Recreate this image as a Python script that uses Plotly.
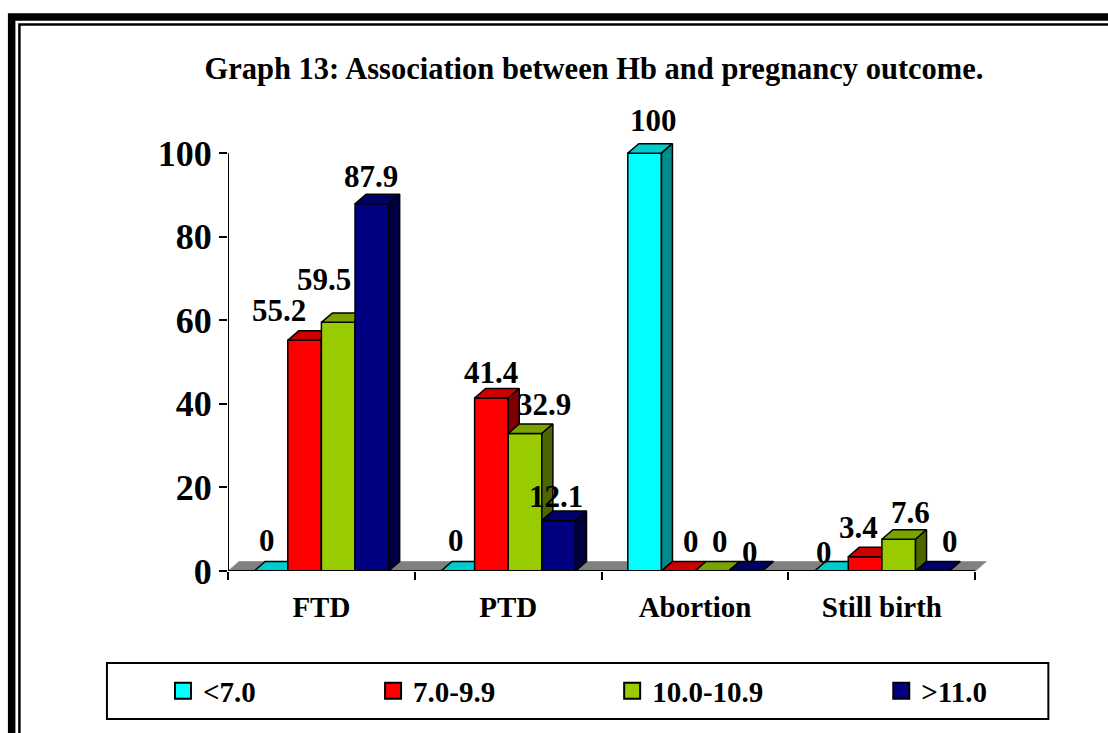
import plotly.graph_objects as go

# ---------------- data ----------------
categories = ["FTD", "PTD", "Abortion", "Still birth"]
series_names = ["<7.0", "7.0-9.9", "10.0-10.9", ">11.0"]
val_lt7 = [0, 0, 100, 0]
val_7_99 = [55.2, 41.4, 0, 3.4]
val_10_109 = [59.5, 32.9, 0, 7.6]
val_gt11 = [87.9, 12.1, 0, 0]
y_ticks = [0, 20, 40, 60, 80, 100]

# ---------------- style ----------------
FONT = "Liberation Serif"
front_colors = ["#00FFFF", "#FF0000", "#99CC00", "#000080"]
top_colors = ["#00CCCC", "#CC0000", "#7AA300", "#000066"]
side_colors = ["#008B8B", "#800000", "#4D6600", "#000040"]
# per-label pixel nudges (Excel's own label placement)
label_dx = [[-3.5, -2, 9, -7], [-26, 0, 12.5, -7], [-14, 19, 8, 11.6], [-1, -2.5, 4, 18]]
label_dy = [[31, 30.5, 33, 18.5], [30, 26, 29.5, 29], [43, 29.5, 29.5, 27], [27, 24, 18.5, 29.5]]

W, H = 1108, 733
L, B = 228, 162
PX_PER_CAT = 186.75
PX_PER_UNIT = 4.18
X_RANGE = [-0.5, 3.6]
Y_RANGE = [0, 112]
plot_w = (X_RANGE[1] - X_RANGE[0]) * PX_PER_CAT
plot_h = (Y_RANGE[1] - Y_RANGE[0]) * PX_PER_UNIT
R = W - L - plot_w
T = H - B - plot_h
DX = 11 / PX_PER_CAT      # depth offset in x units
DY = 9.5 / PX_PER_UNIT    # depth offset in y units
BARGAP = 0.28
BAR_W = (1 - BARGAP) / 4


def px2paper_x(px):
    return (px - L) / plot_w


def px2paper_y(py):
    return (H - B - py) / plot_h


all_series = [val_lt7, val_7_99, val_10_109, val_gt11]

fig = go.Figure()

# floor
n = len(categories)
fig.add_trace(go.Scatter(
    x=[-0.5, n - 0.5, n - 0.5 + DX, -0.5 + DX, -0.5],
    y=[0, 0, DY, DY, 0],
    fill="toself", fillcolor="#808080", mode="lines",
    line=dict(color="#9A9A9A", width=1), showlegend=False, hoverinfo="skip"))


def poly_trace(xs, ys, color):
    return go.Scatter(x=xs, y=ys, fill="toself", fillcolor=color, mode="lines",
                      line=dict(color="black", width=1.5), showlegend=False,
                      hoverinfo="skip")


for j, vals in enumerate(all_series):
    fx, fy, tx, ty, sx, sy = [], [], [], [], [], []
    for c, v in enumerate(vals):
        x0 = c - 0.5 + BARGAP / 2 + j * BAR_W
        x1 = x0 + BAR_W
        fx += [x0, x1, x1, x0, x0, None]
        fy += [0, 0, v, v, 0, None]
        tx += [x0, x1, x1 + DX, x0 + DX, x0, None]
        ty += [v, v, v + DY, v + DY, v, None]
        sx += [x1, x1 + DX, x1 + DX, x1, x1, None]
        sy += [0, DY, v + DY, v, 0, None]
    fig.add_trace(poly_trace(fx, fy, front_colors[j]))
    fig.add_trace(poly_trace(tx, ty, top_colors[j]))
    fig.add_trace(poly_trace(sx, sy, side_colors[j]))

# data labels
for j, vals in enumerate(all_series):
    for c, v in enumerate(vals):
        xc = c - 0.5 + BARGAP / 2 + (j + 0.5) * BAR_W
        fig.add_annotation(x=xc, y=v, xref="x", yref="y", text=f"{v:g}",
                           showarrow=False, xanchor="center", yanchor="middle",
                           xshift=label_dx[j][c], yshift=label_dy[j][c],
                           font=dict(family=FONT, size=31, color="black", weight="bold"))

# legend entries (one legend per item)
legend_px = [163, 373, 612, 881]
for j, name in enumerate(series_names):
    lname = "legend" if j == 0 else f"legend{j + 1}"
    fig.add_trace(go.Scatter(
        x=[None], y=[None], mode="markers", name=name, legend=lname,
        marker=dict(symbol="square", size=16, color=front_colors[j],
                    line=dict(color="black", width=2))))
    fig.update_layout({lname: dict(
        x=px2paper_x(legend_px[j]), y=px2paper_y(691), xanchor="left", yanchor="middle",
        orientation="h", bgcolor="rgba(0,0,0,0)", borderwidth=0,
        font=dict(family=FONT, size=29, color="black", weight="bold"))})

shapes = [
    # axis lines
    dict(type="line", xref="x", yref="y", x0=-0.5, x1=n - 0.5, y0=0, y1=0,
         line=dict(color="black", width=2)),
    dict(type="line", xref="x", yref="y", x0=-0.5, x1=-0.5, y0=0, y1=100,
         line=dict(color="black", width=2)),
    # legend box
    dict(type="rect", xref="paper", yref="paper",
         x0=px2paper_x(107), x1=px2paper_x(1048), y0=px2paper_y(719), y1=px2paper_y(663),
         line=dict(color="black", width=2), fillcolor="rgba(0,0,0,0)", layer="below"),
    # page border (thick + thin)
    dict(type="rect", xref="paper", yref="paper",
         x0=px2paper_x(11.75), x1=px2paper_x(1125), y0=px2paper_y(750), y1=px2paper_y(16.75),
         line=dict(color="black", width=7.5), fillcolor="rgba(0,0,0,0)", layer="below"),
    dict(type="rect", xref="paper", yref="paper",
         x0=px2paper_x(19.5), x1=px2paper_x(1125), y0=px2paper_y(750), y1=px2paper_y(24.25),
         line=dict(color="black", width=2.5), fillcolor="rgba(0,0,0,0)", layer="below"),
]

fig.update_layout(
    width=W, height=H,
    margin=dict(l=L, r=R, t=T, b=B, pad=0),
    paper_bgcolor="white", plot_bgcolor="white",
    shapes=shapes,
    title=dict(text="Graph 13: Association between Hb and pregnancy outcome.",
               x=594 / W, xref="container", xanchor="center",
               y=1 - 68 / H, yref="container", yanchor="middle",
               font=dict(family=FONT, size=30.5, color="black", weight="bold")),
    xaxis=dict(range=X_RANGE, tickmode="array", tickvals=list(range(n)), ticktext=categories,
               ticks="outside", ticklen=10, tickcolor="rgba(0,0,0,0)",
               minor=dict(tickmode="array", tickvals=[c - 0.5 for c in range(n + 1)],
                          ticks="outside", ticklen=8, tickwidth=2, tickcolor="black"),
               showgrid=False, zeroline=False, showline=False, fixedrange=True,
               automargin=False,
               tickfont=dict(family=FONT, size=29, color="black", weight="bold")),
    yaxis=dict(range=Y_RANGE, tickmode="array", tickvals=y_ticks,
               ticks="outside", ticklen=8, tickwidth=2, tickcolor="black",
               showgrid=False, zeroline=False, showline=False, fixedrange=True,
               automargin=False,
               tickfont=dict(family=FONT, size=36, color="black", weight="bold")),
    showlegend=True,
)

fig.write_html("out.html", config={"displayModeBar": False},
               post_script="document.body.style.margin='0px';document.body.style.padding='0px';")
